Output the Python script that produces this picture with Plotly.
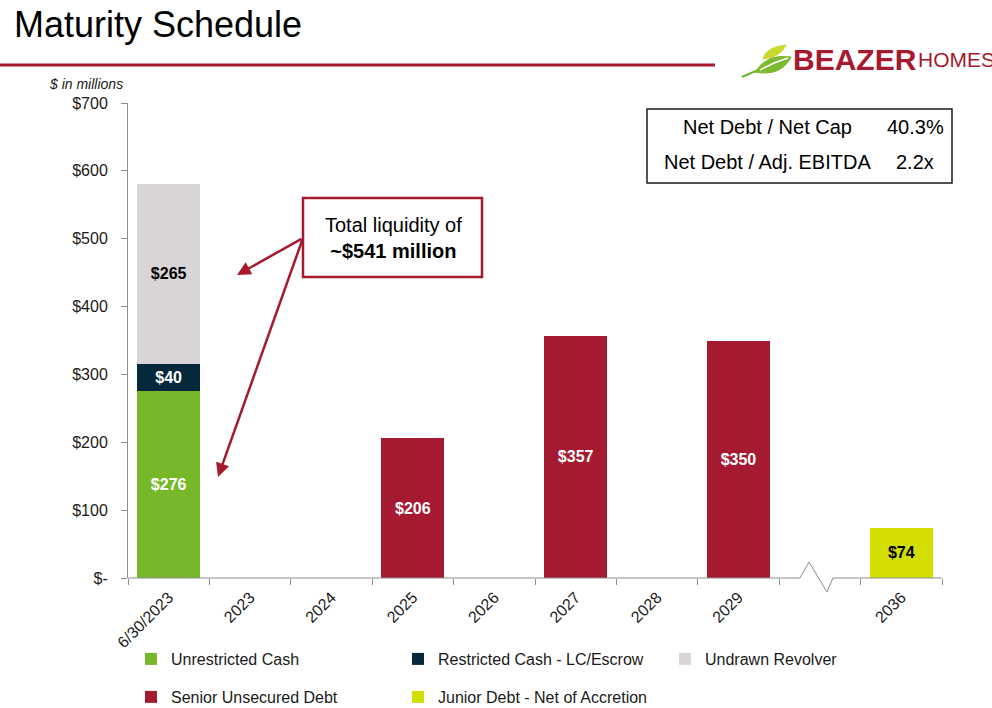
import plotly.graph_objects as go

# ---------------- data ----------------
categories = ["6/30/2023", "2023", "2024", "2025", "2026", "2027", "2028", "2029", " ", "2036"]
unrestricted_cash = [276, None, None, None, None, None, None, None, None, None]
restricted_cash = [40, None, None, None, None, None, None, None, None, None]
undrawn_revolver = [265, None, None, None, None, None, None, None, None, None]
senior_unsecured = [None, None, None, 206, None, 357, None, 350, None, None]
junior_debt = [None, None, None, None, None, None, None, None, None, 74]

y_tick_vals = [0, 100, 200, 300, 400, 500, 600, 700]
y_tick_text = ["$-", "$100", "$200", "$300", "$400", "$500", "$600", "$700"]

FONT = "Arial, Liberation Sans, sans-serif"
RED = "#a6192e"
AXIS = "#8c8c8c"

# layout geometry (pixels)
W, H = 992, 708
ML, MR, MT, MB = 128, 50, 103, 130
PW = W - ML - MR
PH = H - MT - MB


def px(x):
    return (x - ML) / PW


def py(y):
    return (H - MB - y) / PH


def cy(y):
    return 1 - y / H


def path(cmds):
    out = []
    for c in cmds:
        if isinstance(c, str):
            out.append(c)
        else:
            out.append(f"{px(c[0]):.5f},{py(c[1]):.5f}")
    return " ".join(out)


fig = go.Figure()

series = [
    ("Unrestricted Cash", unrestricted_cash, "#77b82a", "white", "legend"),
    ("Restricted Cash - LC/Escrow", restricted_cash, "#05283a", "white", "legend"),
    ("Undrawn Revolver", undrawn_revolver, "#d9d4d8", "black", "legend"),
    ("Senior Unsecured Debt", senior_unsecured, "#a51a30", "white", "legend2"),
    ("Junior Debt - Net of Accretion", junior_debt, "#d3df00", "black", "legend2"),
]
for name, vals, color, tcolor, leg in series:
    fig.add_trace(go.Bar(
        name=name, x=categories, y=vals,
        marker=dict(color=color, line=dict(width=0)),
        texttemplate="<b>$%{y}</b>", textposition="inside",
        insidetextanchor="middle", textangle=0,
        textfont=dict(family=FONT, size=16, color=tcolor),
        legend=leg, hoverinfo="skip",
    ))

legend_common = dict(orientation="h", xref="container", yref="container",
                     xanchor="left", yanchor="middle",
                     entrywidth=222, entrywidthmode="pixels",
                     font=dict(size=16, color="#1a1a1a", family=FONT),
                     bgcolor="rgba(0,0,0,0)", traceorder="normal",
                     borderwidth=0)

fig.update_layout(
    width=W, height=H,
    margin=dict(l=ML, r=MR, t=MT, b=MB, autoexpand=False),
    paper_bgcolor="white", plot_bgcolor="white",
    barmode="stack", bargap=0.225,
    font=dict(family=FONT, color="#1a1a1a"),
    showlegend=True,
    legend=dict(legend_common, x=131 / W, y=cy(659)),
    legend2=dict(legend_common, x=131 / W, y=cy(697)),
    xaxis=dict(
        type="category", categoryorder="array", categoryarray=categories,
        range=[-0.5, len(categories) - 0.5], automargin=False,
        showline=False, showgrid=False, zeroline=False,
        ticks="outside", tickson="boundaries", ticklen=6, tickcolor=AXIS, tickwidth=1,
        tickangle=-45, tickfont=dict(size=16, color="#1a1a1a"),
        ticklabelstandoff=6,
    ),
    yaxis=dict(
        range=[0, 700], tickmode="array", tickvals=y_tick_vals, ticktext=y_tick_text,
        showline=True, linecolor=AXIS, linewidth=1, automargin=False,
        ticks="outside", ticklen=6, tickcolor=AXIS,
        showgrid=False, zeroline=False, ticklabelstandoff=10,
        tickfont=dict(size=16, color="#1a1a1a"),
    ),
)

# x-axis line with a break between 2029 and 2036
brk = categories.index(" ")
zx = [brk - 0.245, brk - 0.134, brk + 0.087, brk + 0.16]
zy = [0, py(562), py(592), 0]
axline = dict(color=AXIS, width=1)
shapes = [
    dict(type="line", xref="x", yref="paper", x0=-0.5, x1=zx[0], y0=0, y1=0, line=axline),
    dict(type="line", xref="x", yref="paper", x0=zx[3], x1=len(categories) - 0.5, y0=0, y1=0, line=axline),
]
for i in range(3):
    shapes.append(dict(type="line", xref="x", yref="paper", x0=zx[i], x1=zx[i + 1],
                       y0=zy[i], y1=zy[i + 1], line=axline))

# title underline
shapes.append(dict(type="line", xref="paper", yref="paper", x0=px(0), x1=px(715),
                   y0=py(65), y1=py(65), line=dict(color=RED, width=3)))

# ratio box
shapes.append(dict(type="rect", xref="paper", yref="paper", x0=px(647), x1=px(952),
                   y0=py(109), y1=py(183), line=dict(color="#1a1a1a", width=1.5),
                   fillcolor="white"))

# liquidity callout box
shapes.append(dict(type="rect", xref="paper", yref="paper", x0=px(303), x1=px(482),
                   y0=py(198), y1=py(277), line=dict(color=RED, width=2.5),
                   fillcolor="white"))

# logo leaf
shapes.append(dict(type="path", xref="paper", yref="paper",
                   path=path(["M", (742, 77), "L", (758, 70)]),
                   line=dict(color="#6cb52d", width=2)))
shapes.append(dict(type="path", xref="paper", yref="paper",
                   path=path(["M", (755, 72), "Q", (767, 53), (791, 57), "Q", (781, 77), (755, 72), "Z"]),
                   fillcolor="#7cbb2f", line=dict(color="#7cbb2f", width=1)))
shapes.append(dict(type="path", xref="paper", yref="paper",
                   path=path(["M", (760, 70), "Q", (774, 62), (788, 58)]),
                   line=dict(color="white", width=1.5)))
shapes.append(dict(type="path", xref="paper", yref="paper",
                   path=path(["M", (763, 59), "Q", (766, 47), (786, 45), "Q", (781, 57), (763, 59), "Z"]),
                   fillcolor="#c9d92e", line=dict(color="#c9d92e", width=1)))

fig.update_layout(shapes=shapes)

annotations = [
    dict(text="Maturity Schedule", x=px(12), y=py(25), xref="paper", yref="paper",
         xanchor="left", yanchor="middle", showarrow=False,
         font=dict(size=36, color="black", family=FONT)),
    dict(text="<b>BEAZER</b>", x=px(791), y=py(59), xref="paper", yref="paper",
         xanchor="left", yanchor="middle", showarrow=False,
         font=dict(size=30, color=RED, family=FONT)),
    dict(text="HOMES", x=px(916), y=py(60), xref="paper", yref="paper",
         xanchor="left", yanchor="middle", showarrow=False,
         font=dict(size=21, color=RED, family=FONT)),
    dict(text="<i>$ in millions</i>", x=px(125), y=py(84), xref="paper", yref="paper",
         xanchor="right", yanchor="middle", showarrow=False,
         font=dict(size=14, color="#1a1a1a", family=FONT)),
    dict(text="Net Debt / Net Cap", x=px(767), y=py(127), xref="paper", yref="paper",
         xanchor="center", yanchor="middle", showarrow=False,
         font=dict(size=20, color="black", family=FONT)),
    dict(text="Net Debt / Adj. EBITDA", x=px(767), y=py(162), xref="paper", yref="paper",
         xanchor="center", yanchor="middle", showarrow=False,
         font=dict(size=20, color="black", family=FONT)),
    dict(text="40.3%", x=px(915), y=py(127), xref="paper", yref="paper",
         xanchor="center", yanchor="middle", showarrow=False,
         font=dict(size=20, color="black", family=FONT)),
    dict(text="2.2x", x=px(915), y=py(162), xref="paper", yref="paper",
         xanchor="center", yanchor="middle", showarrow=False,
         font=dict(size=20, color="black", family=FONT)),
    dict(text="Total liquidity of<br><b>~$541 million</b>", x=px(393), y=py(238),
         xref="paper", yref="paper", xanchor="center", yanchor="middle", showarrow=False,
         align="center", font=dict(size=20, color="black", family=FONT)),
    # arrows
    dict(text="", x=px(237), y=py(275), xref="paper", yref="paper",
         ax=66, ay=-37, showarrow=True, arrowhead=2, arrowsize=1.1, arrowwidth=2.5,
         arrowcolor=RED, standoff=0, startstandoff=0),
    dict(text="", x=px(218), y=py(477), xref="paper", yref="paper",
         ax=85, ay=-239, showarrow=True, arrowhead=2, arrowsize=1.1, arrowwidth=2.5,
         arrowcolor=RED, standoff=0, startstandoff=0),
]
fig.update_layout(annotations=annotations)

fig.write_html("out.html")
